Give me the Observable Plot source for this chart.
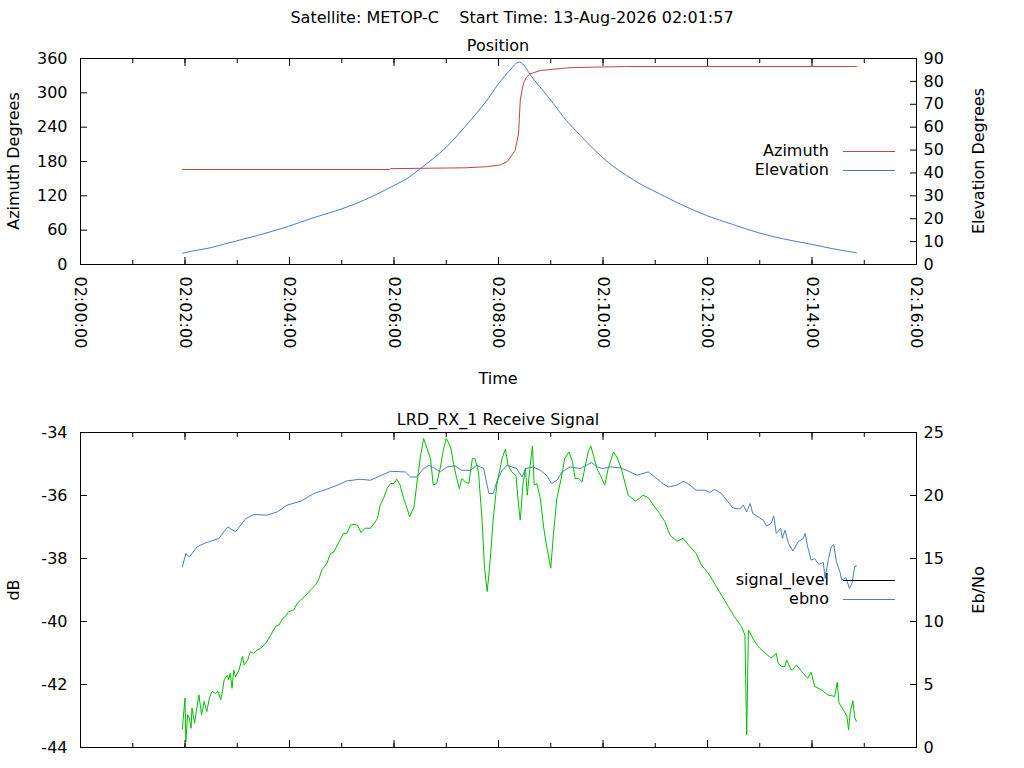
<!DOCTYPE html>
<html><head><meta charset="utf-8">
<script src="https://cdn.jsdelivr.net/npm/d3@7"></script>
<script src="https://cdn.jsdelivr.net/npm/@observablehq/plot@0.6"></script>
<style>
body{margin:0;background:#fff;}
#page{position:relative;width:1024px;height:768px;overflow:hidden;background:#fff;font-family:"DejaVu Sans",sans-serif;}
.abs{position:absolute;white-space:pre;font-size:16px;color:#000;line-height:1;}
</style></head><body><div id="page"></div>
<script>
// ---------------- data ----------------
const mainTitle = "Satellite: METOP-C    Start Time: 13-Aug-2026 02:01:57";
const topTitle = "Position";
const bottomTitle = "LRD_RX_1 Receive Signal";

const azTimes = ["02:01:57","02:05:55","02:05:56","02:07:23","02:07:47","02:08:02","02:08:10","02:08:14","02:08:19","02:08:23","02:08:25","02:08:27","02:08:29","02:08:32","02:08:36","02:08:48","02:09:22","02:10:27","02:14:51"];
const azValues = [166,166,167.5,169,171,174,180,188,199,228,287,305,318,327,333,339,344,346,346];

const elTimes = ["02:01:57","02:02:10","02:02:29","02:02:49","02:03:27","02:03:59","02:04:24","02:05:00","02:05:29","02:06:00","02:06:15","02:06:30","02:06:45","02:07:00","02:07:16","02:07:29","02:07:45","02:08:00","02:08:13","02:08:24","02:08:40","02:08:54","02:09:03","02:09:18","02:09:34","02:09:49","02:10:08","02:10:27","02:10:46","02:11:05","02:11:32","02:11:59","02:12:29","02:13:00","02:13:27","02:13:57","02:14:24","02:14:51"];
const elValues = [4.9,6.0,7.3,9.3,13.1,16.7,20.0,24.3,28.7,34.5,37.6,41.8,46.3,51.2,57.8,63.5,70.9,78.9,84.8,88.4,81.1,74.6,70.3,62.9,56.4,50.5,44.0,38.9,34.5,30.9,25.8,21.4,17.5,13.7,11.2,9.0,6.9,5.1];

const sigTimes = ["02:01:57","02:02:00","02:02:01","02:02:03","02:02:05","02:02:07","02:02:08","02:02:11","02:02:13","02:02:16","02:02:19","02:02:22","02:02:25","02:02:28","02:02:31","02:02:35","02:02:38","02:02:41","02:02:43","02:02:45","02:02:49","02:02:50","02:02:52","02:02:54","02:02:56","02:02:58","02:03:02","02:03:06","02:03:08","02:03:12","02:03:15","02:03:19","02:03:23","02:03:27","02:03:31","02:03:34","02:03:38","02:03:44","02:03:48","02:03:52","02:03:55","02:03:59","02:04:05","02:04:09","02:04:15","02:04:20","02:04:24","02:04:30","02:04:34","02:04:37","02:04:43","02:04:47","02:04:51","02:04:55","02:04:59","02:05:02","02:05:06","02:05:10","02:05:14","02:05:18","02:05:22","02:05:27","02:05:33","02:05:37","02:05:41","02:05:44","02:05:48","02:05:52","02:05:56","02:06:00","02:06:03","02:06:07","02:06:11","02:06:15","02:06:18","02:06:23","02:06:26","02:06:30","02:06:34","02:06:38","02:06:42","02:06:45","02:06:49","02:06:53","02:06:57","02:07:00","02:07:05","02:07:08","02:07:12","02:07:15","02:07:18","02:07:22","02:07:26","02:07:30","02:07:33","02:07:37","02:07:41","02:07:44","02:07:47","02:07:50","02:07:54","02:07:58","02:08:04","02:08:08","02:08:11","02:08:15","02:08:20","02:08:23","02:08:25","02:08:28","02:08:31","02:08:33","02:08:36","02:08:39","02:08:41","02:08:44","02:08:48","02:08:52","02:08:55","02:09:00","02:09:03","02:09:07","02:09:12","02:09:16","02:09:21","02:09:25","02:09:28","02:09:32","02:09:36","02:09:39","02:09:43","02:09:46","02:09:50","02:09:53","02:09:57","02:10:02","02:10:06","02:10:12","02:10:16","02:10:21","02:10:25","02:10:29","02:10:37","02:10:42","02:10:46","02:10:52","02:10:58","02:11:05","02:11:11","02:11:17","02:11:25","02:11:32","02:11:40","02:11:47","02:11:53","02:12:01","02:12:08","02:12:16","02:12:24","02:12:31","02:12:39","02:12:43","02:12:44","02:12:45","02:12:47","02:12:52","02:12:58","02:13:06","02:13:13","02:13:19","02:13:21","02:13:25","02:13:29","02:13:31","02:13:36","02:13:38","02:13:42","02:13:48","02:13:55","02:13:59","02:14:03","02:14:11","02:14:18","02:14:26","02:14:29","02:14:31","02:14:36","02:14:40","02:14:42","02:14:44","02:14:47","02:14:49","02:14:51"];
const sigValues = [-43.41,-42.43,-43.81,-42.96,-43.07,-43.39,-42.75,-43.23,-42.86,-42.33,-42.96,-42.54,-42.86,-42.43,-42.22,-42.28,-42.22,-42.49,-42.22,-41.85,-41.70,-41.85,-41.64,-42.12,-41.54,-41.75,-41.54,-41.11,-41.38,-41.22,-40.96,-41.01,-40.90,-40.85,-40.74,-40.64,-40.45,-40.16,-40.11,-39.90,-39.85,-39.69,-39.63,-39.42,-39.26,-39.13,-39.00,-38.84,-38.63,-38.37,-38.15,-37.84,-37.79,-37.57,-37.36,-37.20,-37.20,-36.94,-36.92,-36.94,-37.17,-37.04,-37.04,-36.89,-36.73,-36.31,-36.09,-35.78,-35.62,-35.62,-35.48,-35.67,-36.09,-36.41,-36.68,-36.36,-35.67,-34.83,-34.19,-34.51,-34.83,-35.67,-35.62,-35.14,-34.51,-34.19,-34.46,-34.93,-35.46,-35.78,-35.46,-35.57,-35.62,-34.83,-34.83,-35.25,-36.73,-38.31,-39.05,-38.21,-36.73,-35.67,-34.83,-34.53,-35.04,-35.25,-35.36,-36.31,-36.78,-35.67,-35.14,-35.99,-35.14,-34.43,-35.67,-35.62,-36.09,-37.04,-37.57,-38.31,-37.26,-36.09,-35.46,-34.83,-34.62,-34.93,-35.46,-35.46,-35.57,-35.14,-34.62,-34.43,-34.83,-35.14,-35.36,-35.67,-35.14,-34.62,-34.78,-35.14,-35.57,-35.99,-36.18,-36.09,-35.99,-36.07,-36.31,-36.57,-36.83,-37.26,-37.45,-37.36,-37.63,-37.84,-38.21,-38.47,-38.79,-39.16,-39.53,-39.85,-40.16,-40.43,-42.12,-43.60,-40.27,-40.53,-40.79,-41.00,-41.16,-41.01,-41.32,-41.43,-41.43,-41.22,-41.54,-41.53,-41.38,-41.59,-41.80,-41.61,-42.06,-42.17,-42.33,-42.38,-41.93,-42.59,-42.80,-43.00,-43.44,-42.85,-42.52,-43.05,-43.17];

const ebTimes = ["02:01:57","02:02:01","02:02:05","02:02:14","02:02:22","02:02:39","02:02:49","02:02:58","02:03:10","02:03:19","02:03:34","02:03:46","02:03:57","02:04:13","02:04:28","02:04:43","02:04:55","02:05:06","02:05:21","02:05:33","02:05:41","02:05:56","02:06:13","02:06:19","02:06:26","02:06:34","02:06:40","02:06:47","02:06:53","02:07:01","02:07:10","02:07:18","02:07:28","02:07:35","02:07:43","02:07:47","02:07:49","02:07:54","02:07:58","02:08:04","02:08:10","02:08:21","02:08:27","02:08:31","02:08:40","02:08:48","02:08:55","02:09:01","02:09:07","02:09:13","02:09:22","02:09:34","02:09:41","02:09:47","02:09:53","02:10:00","02:10:08","02:10:20","02:10:27","02:10:39","02:10:52","02:10:58","02:11:07","02:11:15","02:11:25","02:11:32","02:11:40","02:11:47","02:11:57","02:12:03","02:12:08","02:12:16","02:12:22","02:12:29","02:12:37","02:12:41","02:12:45","02:12:49","02:12:52","02:12:58","02:13:04","02:13:08","02:13:13","02:13:16","02:13:19","02:13:24","02:13:26","02:13:29","02:13:33","02:13:38","02:13:44","02:13:50","02:13:52","02:13:55","02:13:59","02:14:03","02:14:08","02:14:13","02:14:15","02:14:19","02:14:22","02:14:25","02:14:28","02:14:32","02:14:34","02:14:39","02:14:43","02:14:46","02:14:49","02:14:51"];
const ebValues = [14.34,15.4,15.13,15.93,16.2,16.59,17.51,17.12,18.18,18.49,18.44,18.70,19.23,19.55,20.16,20.50,20.82,21.16,21.29,21.21,21.47,21.92,21.87,21.47,21.47,22.14,22.40,22.14,21.87,22.27,22.35,22.00,22.00,22.40,22.14,20.82,20.16,20.16,21.08,22.00,22.40,22.14,21.47,22.14,22.27,22.00,21.61,20.95,21.21,21.87,22.27,22.14,22.40,22.61,22.27,22.14,22.27,22.19,22.00,21.61,21.87,21.55,21.03,20.68,20.82,21.13,20.82,20.42,20.42,20.24,20.48,20.16,19.63,19.02,18.92,19.23,18.70,19.37,18.57,18.31,18.04,17.59,17.78,18.38,16.99,17.38,16.59,17.25,16.20,15.59,16.32,16.59,16.99,15.93,14.87,15.00,14.53,14.69,13.42,15.00,15.93,16.12,14.74,13.95,13.29,13.47,12.63,13.03,14.34,14.40];

const xStart = "02:00:00", xEnd = "02:16:00";
const azTicks = [0,60,120,180,240,300,360];
const elTicks = [0,10,20,30,40,50,60,70,80,90];
const dbTicks = [-44,-42,-40,-38,-36,-34];
const ebTicksVals = [0,5,10,15,20,25];

const colAz = "#c04545", colEl = "#4a7dc4", colSig = "#00c000";

// ---------------- helpers ----------------
const page = document.getElementById("page");
const parseT = d3.utcParse("%H:%M:%S");
const toDate = s => { const t = parseT(s); return new Date(Date.UTC(2026,7,13,t.getUTCHours(),t.getUTCMinutes(),t.getUTCSeconds())); };
const xDomain = [toDate(xStart), toDate(xEnd)];
const majorTicks = d3.utcMinute.every(2).range(xDomain[0], new Date(+xDomain[1]+1));
const minorTicks = d3.utcMinute.range(xDomain[0], new Date(+xDomain[1]+1));
const fmt = d3.utcFormat("%H:%M:%S");
const blank = () => "";
const plain = d => String(d);

function label(text, cx, cy, rot) {
  const d = document.createElement("div");
  d.className = "abs";
  d.textContent = text;
  d.style.left = cx + "px"; d.style.top = cy + "px";
  d.style.transform = "translate(-50%,-50%)" + (rot ? " rotate(" + rot + "deg)" : "");
  page.appendChild(d);
}
function legendItem(text, color, cy) {
  const d = document.createElement("div");
  d.className = "abs"; d.textContent = text;
  d.style.right = (1024 - 829) + "px"; d.style.top = (cy - 8) + "px";
  page.appendChild(d);
  const ns = "http://www.w3.org/2000/svg";
  const s = document.createElementNS(ns, "svg");
  s.setAttribute("width", "54"); s.setAttribute("height", "4");
  s.style.cssText = `position:absolute;left:842px;top:${cy - 2}px;`;
  const ln = document.createElementNS(ns, "line");
  ln.setAttribute("x1", "1"); ln.setAttribute("x2", "53");
  ln.setAttribute("y1", "2.5"); ln.setAttribute("y2", "2.5");
  ln.setAttribute("stroke", color); ln.setAttribute("stroke-width", "1");
  s.appendChild(ln);
  page.appendChild(s);
}
const chartStyle = {fontFamily: "DejaVu Sans, sans-serif", fontSize: "16px", background: "transparent", overflow: "visible", color: "#000"};

// ---------------- top chart ----------------
const azData = azTimes.map((t,i) => ({t: toDate(t), v: azValues[i]}));
const elData = elTimes.map((t,i) => ({t: toDate(t), v: elValues[i]}));
const topScale = 360/90;

const topChart = Plot.plot({
  width: 1024, height: 400,
  marginTop: 58, marginBottom: 136, marginLeft: 80, marginRight: 108,
  style: chartStyle,
  x: {type: "utc", domain: xDomain, axis: null},
  y: {domain: [0, 360], axis: null},
  marks: [
    Plot.line(azData, {x: "t", y: "v", stroke: colAz, strokeWidth: 1}),
    Plot.line(elData, {x: "t", y: d => d.v * topScale, stroke: colEl, strokeWidth: 1, curve: "catmull-rom"}),
    Plot.axisX(majorTicks, {anchor: "bottom", tickSize: -7, tickFormat: blank, label: null}),
    Plot.axisX(majorTicks, {anchor: "top", tickSize: -7, tickFormat: blank, label: null}),
    Plot.axisX(minorTicks, {anchor: "bottom", tickSize: -4, tickFormat: blank, label: null}),
    Plot.axisX(minorTicks, {anchor: "top", tickSize: -4, tickFormat: blank, label: null}),
    Plot.axisX(majorTicks, {anchor: "bottom", tickSize: 0, tickRotate: 90, tickPadding: 12, tickFormat: fmt, label: null}),
    Plot.axisY(azTicks, {anchor: "left", tickSize: -7, tickFormat: blank, label: null}),
    Plot.axisY(azTicks, {anchor: "left", tickSize: 0, tickPadding: 13, tickFormat: plain, label: null}),
    Plot.axisY(elTicks.map(v => v*topScale), {anchor: "right", tickSize: -7, tickFormat: blank, label: null}),
    Plot.axisY(elTicks.map(v => v*topScale), {anchor: "right", tickSize: 0, tickPadding: 7, tickFormat: d => String(d/topScale), label: null}),
    Plot.frame({stroke: "#000", strokeWidth: 1})
  ]
});
topChart.style.position = "absolute"; topChart.style.left = "0px"; topChart.style.top = "0px";
page.appendChild(topChart);

// ---------------- bottom chart ----------------
const sigData = sigTimes.map((t,i) => ({t: toDate(t), v: sigValues[i]}));
const ebData = ebTimes.map((t,i) => ({t: toDate(t), v: ebValues[i]}));
const ebToDb = v => -44 + v * 10 / 25;
const dbToEb = v => String(Math.round((v + 44) * 25 / 10));

const bottomChart = Plot.plot({
  width: 1024, height: 368,
  marginTop: 32, marginBottom: 21, marginLeft: 80, marginRight: 108,
  style: chartStyle,
  x: {type: "utc", domain: xDomain, axis: null},
  y: {domain: [-44, -34], axis: null},
  marks: [
    Plot.line(ebData, {x: "t", y: d => ebToDb(d.v), stroke: colEl, strokeWidth: 1}),
    Plot.line(sigData, {x: "t", y: "v", stroke: colSig, strokeWidth: 1}),
    Plot.axisX(majorTicks, {anchor: "bottom", tickSize: -7, tickFormat: blank, label: null}),
    Plot.axisX(majorTicks, {anchor: "top", tickSize: -7, tickFormat: blank, label: null}),
    Plot.axisX(minorTicks, {anchor: "bottom", tickSize: -4, tickFormat: blank, label: null}),
    Plot.axisX(minorTicks, {anchor: "top", tickSize: -4, tickFormat: blank, label: null}),
    Plot.axisY(dbTicks, {anchor: "left", tickSize: -7, tickFormat: blank, label: null}),
    Plot.axisY(dbTicks, {anchor: "left", tickSize: 0, tickPadding: 13, tickFormat: plain, label: null}),
    Plot.axisY(ebTicksVals.map(ebToDb), {anchor: "right", tickSize: -7, tickFormat: blank, label: null}),
    Plot.axisY(ebTicksVals.map(ebToDb), {anchor: "right", tickSize: 0, tickPadding: 7, tickFormat: dbToEb, label: null}),
    Plot.frame({stroke: "#000", strokeWidth: 1})
  ]
});
bottomChart.style.position = "absolute"; bottomChart.style.left = "0px"; bottomChart.style.top = "400px";
page.appendChild(bottomChart);

// ---------------- text ----------------
label(mainTitle, 512, 18);
label(topTitle, 498, 46);
label("Time", 498, 379);
label(bottomTitle, 498, 420);
label("Azimuth Degrees", 14, 161, -90);
label("Elevation Degrees", 979, 161, -90);
label("dB", 14, 590, -90);
label("Eb/No", 979, 590, -90);
legendItem("Azimuth", colAz, 151);
legendItem("Elevation", colEl, 170);
legendItem("signal_level", "#000", 580);
legendItem("ebno", colEl, 599);
</script></body></html>
